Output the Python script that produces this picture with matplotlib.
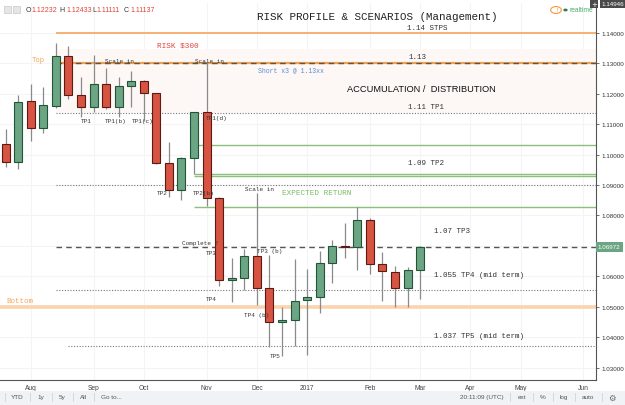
import matplotlib
matplotlib.use('Agg')
import matplotlib.pyplot as plt
import matplotlib.transforms as mtransforms
from matplotlib.patches import Rectangle, Circle
import numpy as np
import pandas as pd

# weekly candles (EUR/USD), first bar = week of 2016-07-18
week_start = '2016-07-18'
opens = [1.1034, 1.0976, 1.1174, 1.1086, 1.1160, 1.1324, 1.1196, 1.1155, 1.1231, 1.1157,
         1.1225, 1.1240, 1.1201, 1.0971, 1.0884, 1.0988, 1.1138, 1.0857, 1.0590, 1.0594,
         1.0666, 1.0561, 1.0450, 1.0456, 1.0522, 1.0532, 1.0643, 1.0701, 1.0698, 1.0785,
         1.0640, 1.0616, 1.0561, 1.0621]
highs = [1.1084, 1.1196, 1.1231, 1.1222, 1.1365, 1.1355, 1.1255, 1.1326, 1.1283, 1.1255,
         1.1273, 1.1245, 1.1203, 1.1040, 1.0993, 1.1140, 1.1302, 1.0860, 1.0660, 1.0690,
         1.0874, 1.0670, 1.0499, 1.0657, 1.0625, 1.0685, 1.0720, 1.0774, 1.0829, 1.0791,
         1.0679, 1.0633, 1.0630, 1.0701]
lows = [1.0958, 1.0952, 1.1045, 1.1071, 1.1152, 1.1182, 1.1124, 1.1140, 1.1149, 1.1124,
        1.1155, 1.1109, 1.0969, 1.0860, 1.0852, 1.0936, 1.0832, 1.0570, 1.0517, 1.0556,
        1.0507, 1.0368, 1.0340, 1.0373, 1.0344, 1.0479, 1.0580, 1.0660, 1.0621, 1.0608,
        1.0521, 1.0499, 1.0499, 1.0525]
closes = [1.0976, 1.1173, 1.1086, 1.1162, 1.1324, 1.1196, 1.1155, 1.1232, 1.1157, 1.1224,
          1.1240, 1.1201, 1.0971, 1.0884, 1.0988, 1.1138, 1.0856, 1.0590, 1.0594, 1.0666,
          1.0561, 1.0450, 1.0456, 1.0520, 1.0533, 1.0643, 1.0701, 1.0697, 1.0785, 1.0640,
          1.0617, 1.0561, 1.0620, 1.0697]

price_ticks = [1.03, 1.04, 1.05, 1.06, 1.07, 1.08, 1.09, 1.10, 1.11, 1.12, 1.13, 1.14]
last_price = 1.06972
top_price = 1.14946

# drawn levels
stps_level = 1.14
top_level = 1.13
tp1_level = 1.1135
tp2_level = 1.09
tp3_level = 1.0696
tp4_level = 1.0555
bottom_level = 1.05
tp5_level = 1.0371
green_levels = [1.1030, 1.0935, 1.0929, 1.0827]
zone_low, zone_high = 1.1135, 1.1345

UP = '#6ba583'
UP_EDGE = '#225437'
DOWN = '#d75442'
DOWN_EDGE = '#5b1a13'
WICK = '#8a8a8c'
ORANGE = '#f5a55a'
GREEN_LINE = '#8cc07a'
MONO = 'Liberation Mono'
SANS = 'Liberation Sans'

W, H = 625, 406


def fx(px):
    return px / W


def fy(py):
    return 1 - py / H


fig = plt.figure(figsize=(W / 100, H / 100), dpi=100)
fig.patch.set_facecolor('white')
ax = fig.add_axes([0, fy(380.5), fx(596), fy(4) - fy(380.5)])
ax.set_facecolor('white')

n = len(opens)
idx = np.arange(n)
weeks = pd.date_range(week_start, periods=48, freq='7D')

# month ticks at the first weekly bar of each month
month_pos, month_lab = [], []
for i in range(1, len(weeks)):
    if weeks[i].month != weeks[i - 1].month:
        month_pos.append(i)
        month_lab.append(str(weeks[i].year) if weeks[i].month == 1 else weeks[i].strftime('%b'))

ax.set_xlim(-0.446, 47.0)
ax.set_ylim(1.0262, 1.1497)

for p in month_pos:
    ax.axvline(p, color='#f4f4f4', lw=0.8, zorder=0)
for p in price_ticks:
    ax.axhline(p, color='#f4f4f4', lw=0.8, zorder=0)

# accumulation zone
ax.add_patch(Rectangle((4, zone_low), 60, zone_high - zone_low,
                       facecolor='#fdf8f5', edgecolor='none', zorder=0.5))

# levels
ax.hlines(stps_level, 4, 60, color=ORANGE, lw=1.2, zorder=1)
ax.hlines(top_level, 4, 60, color='#f2a04c', lw=1.6, zorder=1)
ax.hlines(top_level, 4, 60, color='#555555', lw=1.0, linestyles=(0, (4, 3)), zorder=1.1)
ax.hlines(tp1_level, 4, 60, color='#777777', lw=0.8, linestyles=(0, (1, 1.5)), zorder=1)
ax.hlines(tp2_level, 4, 60, color='#777777', lw=0.8, linestyles=(0, (1, 1.5)), zorder=1)
ax.hlines(green_levels, 15, 60, color=GREEN_LINE, lw=1.0, zorder=1)
ax.hlines(tp3_level, 4, 60, color='#555555', lw=1.0, linestyles=(0, (4, 3)), zorder=1)
ax.hlines(tp4_level, 4, 60, color='#777777', lw=0.8, linestyles=(0, (1, 1.5)), zorder=1)
ax.hlines(bottom_level, -1, 60, color='#fbd3ad', lw=2.6, zorder=1)
ax.hlines(tp5_level, 5, 60, color='#777777', lw=0.8, linestyles=(0, (1, 1.5)), zorder=1)

# candles
o = np.array(opens)
c = np.array(closes)
up = c >= o
ax.vlines(idx, lows, highs, color=WICK, lw=0.9, zorder=2)
body_bottom = np.minimum(o, c)
body_h = np.maximum(np.abs(c - o), 0.00015)
ax.bar(idx[up], body_h[up], bottom=body_bottom[up], width=0.64,
       color=UP, edgecolor=UP_EDGE, linewidth=0.8, zorder=3)
ax.bar(idx[~up], body_h[~up], bottom=body_bottom[~up], width=0.64,
       color=DOWN, edgecolor=DOWN_EDGE, linewidth=0.8, zorder=3)

# annotations
def note(x, y, s, size=4.3, color='#333333', family=MONO, **kw):
    ax.text(x, y, s, fontsize=size, color=color, family=family,
            ha='center', va='center', zorder=5, **kw)

note(33.6, 1.1418, '1.14 STPS', 5.4)
note(32.8, 1.1323, '1.13', 5.4)
note(33.5, 1.1159, '1.11 TP1', 5.4)
note(33.5, 1.0975, '1.09 TP2', 5.4)
note(35.5, 1.0752, '1.07 TP3', 5.4)
note(37.7, 1.0605, '1.055 TP4 (mid term)', 5.4)
note(37.7, 1.0405, '1.037 TP5 (mid term)', 5.4)
note(33.1, 1.1218, 'ACCUMULATION /  DISTRIBUTION', 6.7, '#111111', SANS)
note(22.7, 1.1277, 'Short x3 @ 1.13xx', 4.7, '#5b8bd0')
note(13.7, 1.1359, 'RISK $300', 5.6, '#e0443c')
note(2.6, 1.1313, 'Top', 5.2, ORANGE)
note(1.15, 1.0520, 'Bottom', 5.4, ORANGE)
note(9.1, 1.1307, 'Scale in')
note(16.2, 1.1307, 'Scale in')
note(6.4, 1.1113, 'TP1')
note(8.8, 1.1113, 'TP1(b)')
note(10.9, 1.1113, 'TP1(c)')
note(16.8, 1.1120, 'TP1(d)')
note(12.45, 1.0877, 'TP2')
note(15.8, 1.0877, 'TP2(b)')
note(20.2, 1.0887, 'Scale in')
note(24.8, 1.0877, 'EXPECTED RETURN', 5.5, '#7cba6a')
note(15.5, 1.0713, 'Complete ?')
note(16.4, 1.0680, 'TP3')
note(21.05, 1.0684, 'TP3 (b)')
note(16.4, 1.0529, 'TP4')
note(20.0, 1.0474, 'TP4 (b)')
note(21.45, 1.0340, 'TP5')

fig.text(fx(377), fy(17), 'RISK PROFILE & SCENARIOS (Management)', fontsize=7.8,
         family=MONO, color='#222222', ha='center', va='center')

# axes styling
for s in ['top', 'left']:
    ax.spines[s].set_visible(False)
for s in ['right', 'bottom']:
    ax.spines[s].set_color('#555555')
    ax.spines[s].set_linewidth(0.8)
ax.yaxis.tick_right()
ax.set_yticks(price_ticks)
# the 1.07 label is hidden behind the last-price tag
ax.set_yticklabels(['' if abs(p - last_price) < 0.003 else '%.5f' % p for p in price_ticks])
ax.tick_params(axis='y', length=2.5, width=0.6, color='#555555', labelsize=4.5,
               labelcolor='#333333', pad=1.5)
ax.set_xticks(month_pos)
ax.set_xticklabels(month_lab)
ax.tick_params(axis='x', length=0, labelsize=4.8, labelcolor='#444444', pad=3)
for t in ax.get_xticklabels() + ax.get_yticklabels():
    t.set_family(SANS)

# price tags on the scale
blend = mtransforms.blended_transform_factory(ax.transAxes, ax.transData)
ax.text(1.003, last_price, '%.5f' % last_price, transform=blend, fontsize=4.5,
        family=SANS, color='white', ha='left', va='center', zorder=6, clip_on=False,
        bbox=dict(boxstyle='square,pad=0.35', facecolor=UP, edgecolor='none'))
ax.text(1.01, top_price, '%.5f' % top_price, transform=blend, fontsize=4.5,
        family=SANS, color='white', ha='left', va='center', zorder=6, clip_on=False,
        bbox=dict(boxstyle='square,pad=0.35', facecolor='#4a4a4a', edgecolor='none'))
fig.text(fx(594), fy(5), '+', fontsize=5, color='white', ha='center', va='center',
         bbox=dict(boxstyle='square,pad=0.2', facecolor='#4a4a4a', edgecolor='none'))

# header with OHLC of hovered bar
fig.add_artist(Rectangle((fx(4), fy(14)), fx(7), fy(7) - fy(14), transform=fig.transFigure,
                         facecolor='#e6e6e6', edgecolor='#c8c8c8', lw=0.5))
fig.add_artist(Rectangle((fx(13), fy(14)), fx(7), fy(7) - fy(14), transform=fig.transFigure,
                         facecolor='#e6e6e6', edgecolor='#c8c8c8', lw=0.5))
header = [(26, 'O', '#333333'), (31, '1.12232', '#e0443c'), (59, 'H', '#333333'),
          (66.7, '1.12433', '#e0443c'), (92.3, 'L', '#333333'), (96.3, '1.11111', '#e0443c'),
          (123.3, 'C', '#333333'), (130.7, '1.11137', '#e0443c')]
for px, s, col in header:
    fig.text(fx(px), fy(10.5), s, fontsize=5, family=SANS, color=col,
             ha='left', va='center')

fig.add_artist(Circle((fx(556), fy(11)), 0.0085, transform=fig.transFigure,
                      facecolor='white', edgecolor='#f59a3c', lw=0.8))
fig.text(fx(556), fy(11), '!', fontsize=4.5, color='#f59a3c', ha='center', va='center')
fig.add_artist(Circle((fx(565.5), fy(11)), 0.0035, transform=fig.transFigure,
                      facecolor='#2e7d4a', edgecolor='none'))
fig.text(fx(569), fy(11), 'realtime', fontsize=4.8, family=SANS, color='#4caf6e',
         ha='left', va='center')

# bottom toolbar
fig.add_artist(Rectangle((0, 0), 1, fy(392), transform=fig.transFigure,
                         facecolor='#f0f2f5', edgecolor='none'))
for px, s in [(17.5, 'YTD'), (40.7, '1y'), (61.7, '5y'), (83, 'All'), (111.5, 'Go to...'),
              (482, '20:11:09 (UTC)'), (522, 'ext'), (543, '%'), (564, 'log'), (588, 'auto')]:
    fig.text(fx(px), fy(398), s, fontsize=4.6, family=SANS, color='#555555',
             ha='center', va='center')
fig.text(fx(612), fy(398), '\u2699', fontsize=6, color='#666666', ha='center', va='center')
for px in [5, 30, 51.7, 72.7, 94, 510, 533, 553, 575, 602]:
    fig.add_artist(plt.Line2D([fx(px), fx(px)], [fy(394), fy(402)], transform=fig.transFigure,
                              color='#d0d3d8', lw=0.6))

plt.savefig('out.png', dpi=100, facecolor='white')
plt.close()
